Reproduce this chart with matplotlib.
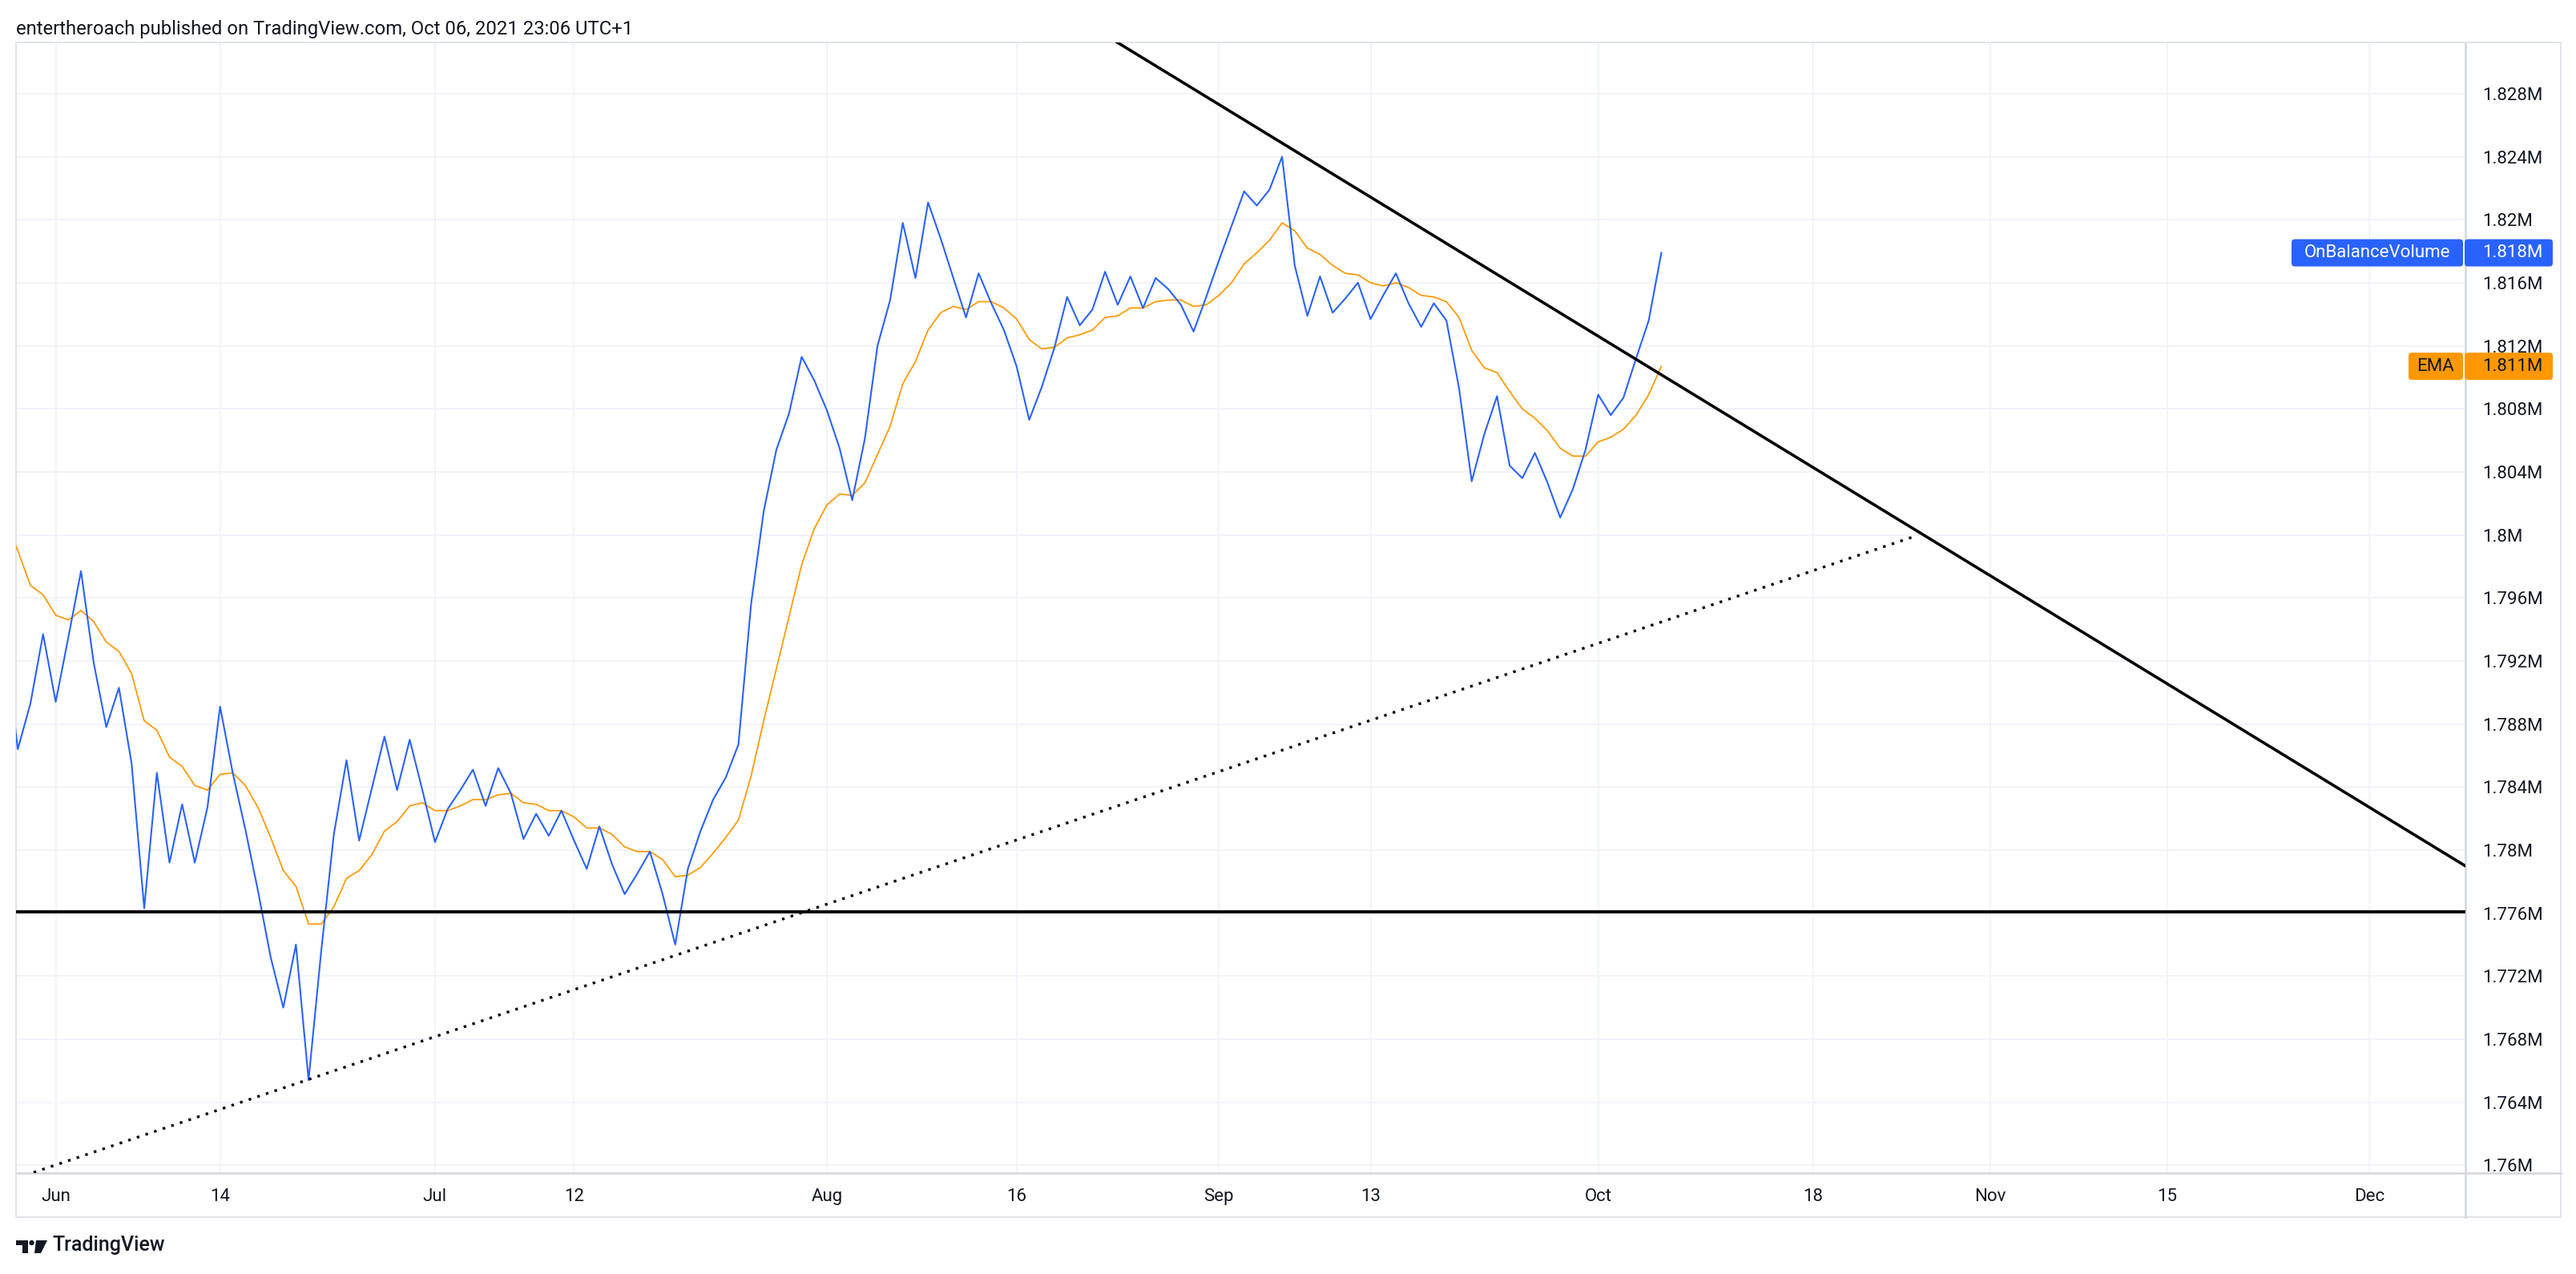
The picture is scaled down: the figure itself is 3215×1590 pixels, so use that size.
import matplotlib
matplotlib.use("Agg")
import matplotlib.pyplot as plt
from matplotlib.patches import FancyBboxPatch, Polygon, Circle
from matplotlib.lines import Line2D
from matplotlib.transforms import IdentityTransform
import pandas as pd

W, H = 3216, 1590

# daily On Balance Volume and its EMA, in millions (May 28 .. Oct 06 2021)
dates = pd.date_range("2021-05-28", "2021-10-06", freq="D")
obv = [1.7930, 1.7864, 1.7893, 1.7937,
       1.7894, 1.7935, 1.7977, 1.7919, 1.7878, 1.7903, 1.7855, 1.7763, 1.7849, 1.7792,
       1.7829, 1.7792, 1.7827, 1.7891, 1.7849, 1.7813, 1.7774, 1.7732, 1.7700, 1.7740,
       1.7654, 1.7736, 1.7810, 1.7857, 1.7806, 1.7839, 1.7872, 1.7838, 1.7870, 1.7838,
       1.7805, 1.7826, 1.7838, 1.7851, 1.7828, 1.7852, 1.7836, 1.7807, 1.7823, 1.7809,
       1.7825, 1.7806, 1.7788, 1.7815, 1.7791, 1.7772, 1.7785, 1.7799, 1.7772, 1.7740,
       1.7788, 1.7812, 1.7832, 1.7846, 1.7867, 1.7956, 1.8015, 1.8054, 1.8077, 1.8113, 1.8098,
       1.8079, 1.8055, 1.8022, 1.8061, 1.8120, 1.8149, 1.8198, 1.8163, 1.8211, 1.8188,
       1.8163, 1.8138, 1.8166, 1.8147, 1.8130, 1.8107, 1.8073, 1.8094, 1.8119, 1.8151,
       1.8133, 1.8143, 1.8167, 1.8146, 1.8164, 1.8144, 1.8163, 1.8156, 1.8146, 1.8129, 1.8151,
       1.8174, 1.8196, 1.8218, 1.8209, 1.8219, 1.8240, 1.8171, 1.8139, 1.8164, 1.8141,
       1.8150, 1.8160, 1.8137, 1.8152, 1.8166, 1.8147, 1.8132, 1.8147, 1.8136, 1.8093,
       1.8034, 1.8064, 1.8088, 1.8044, 1.8036, 1.8052, 1.8033, 1.8011, 1.8029, 1.8054,
       1.8089, 1.8076, 1.8087, 1.8112, 1.8136, 1.8179]
ema = [1.8010, 1.7990, 1.7968, 1.7962,
       1.7949, 1.7946, 1.7952, 1.7945, 1.7932, 1.7926, 1.7912, 1.7882, 1.7876, 1.7859,
       1.7853, 1.7841, 1.7838, 1.7848, 1.7849, 1.7841, 1.7827, 1.7808, 1.7787, 1.7777,
       1.7753, 1.7753, 1.7764, 1.7782, 1.7787, 1.7797, 1.7812, 1.7818, 1.7828, 1.7830,
       1.7825, 1.7825, 1.7828, 1.7832, 1.7832, 1.7835, 1.7836, 1.7830, 1.7829, 1.7825,
       1.7825, 1.7821, 1.7814, 1.7814, 1.7810, 1.7802, 1.7799, 1.7799, 1.7794, 1.7783,
       1.7784, 1.7789, 1.7798, 1.7808, 1.7819, 1.7847, 1.7882, 1.7915, 1.7948, 1.7981, 1.8004,
       1.8019, 1.8026, 1.8025, 1.8033, 1.8051, 1.8069, 1.8096, 1.8110, 1.8130, 1.8141,
       1.8145, 1.8143, 1.8148, 1.8148, 1.8144, 1.8137, 1.8124, 1.8118, 1.8119, 1.8125,
       1.8127, 1.8130, 1.8138, 1.8139, 1.8144, 1.8144, 1.8148, 1.8149, 1.8149, 1.8145, 1.8146,
       1.8152, 1.8160, 1.8172, 1.8179, 1.8187, 1.8198, 1.8193, 1.8182, 1.8178, 1.8171,
       1.8166, 1.8165, 1.8160, 1.8158, 1.8160, 1.8157, 1.8152, 1.8151, 1.8148, 1.8138,
       1.8117, 1.8106, 1.8103, 1.8091, 1.8080, 1.8074, 1.8066, 1.8055, 1.8050, 1.8050,
       1.8059, 1.8062, 1.8067, 1.8076, 1.8089, 1.8107]

# hand drawn lines
support_level = 1.7761
falling_dates = ["2021-08-20", "2021-12-10"]
falling_vals = [1.8332, 1.7783]
rising_dates = ["2021-05-22", "2021-10-26"]
rising_vals = [1.7573, 1.7999]

tick_dates = ["2021-06-01", "2021-06-14", "2021-07-01", "2021-07-12", "2021-08-01",
              "2021-08-16", "2021-09-01", "2021-09-13", "2021-10-01", "2021-10-18",
              "2021-11-01", "2021-11-15", "2021-12-01"]
tick_labels = ["Jun", "14", "Jul", "12", "Aug", "16", "Sep", "13", "Oct", "18", "Nov", "15", "Dec"]
y_ticks = [1.760, 1.764, 1.768, 1.772, 1.776, 1.780, 1.784, 1.788, 1.792,
           1.796, 1.800, 1.804, 1.808, 1.812, 1.816, 1.820, 1.824, 1.828]

TXT = "#131722"
BLUE = "#2962FF"
ORANGE = "#FF9800"
BORDER = "#e0e3eb"

plt.rcParams['font.family'] = ['Roboto', 'DejaVu Sans']

fig = plt.figure(figsize=(W / 100, H / 100), dpi=100)
fig.patch.set_facecolor("white")
ax = fig.add_axes([20 / W, (H - 1464) / H, (3077 - 20) / W, (1464 - 53) / H])

ax.plot(dates, ema, color=ORANGE, lw=1.25, zorder=3)
ax.plot(dates, obv, color=BLUE, lw=1.5, zorder=4)
ax.axhline(support_level, color="black", lw=2.8, zorder=5)
ax.plot(pd.to_datetime(falling_dates), falling_vals, color="black", lw=2.6, zorder=5)
ax.plot(pd.to_datetime(rising_dates), rising_vals, color="black", lw=2.4,
        ls=(0, (1, 2.4)), dash_capstyle="butt", zorder=5)

x0 = pd.Timestamp("2021-06-01")
ax.set_xlim(x0 - pd.Timedelta(days=3.14), x0 + pd.Timedelta(days=190.6))
ax.set_ylim(1.7595, 1.83125)

ax.set_xticks(pd.to_datetime(tick_dates))
ax.set_xticklabels(tick_labels)
ax.set_yticks(y_ticks)
ax.set_yticklabels([("%.3f" % v).rstrip("0").rstrip(".") + "M" for v in y_ticks])
ax.yaxis.tick_right()
ax.tick_params(axis="both", length=0, labelsize=16, colors=TXT)
ax.tick_params(axis="x", pad=14)
ax.tick_params(axis="y", pad=15)
ax.grid(True, color="#f0f3fa", lw=1.4)
ax.set_axisbelow(True)
for side in ["left", "top"]:
    ax.spines[side].set_color(BORDER)
    ax.spines[side].set_linewidth(1.4)
for side in ["right", "bottom"]:
    ax.spines[side].set_color("#d6d9e0")
    ax.spines[side].set_linewidth(2.0)


def fig_line(xa, ya, xb, yb, color=BORDER, lw=1.4):
    fig.add_artist(Line2D([xa / W, xb / W], [1 - ya / H, 1 - yb / H],
                          color=color, lw=lw, transform=fig.transFigure))


# frame around price scale and time scale
fig_line(3077, 53, 3196, 53)
fig_line(3196, 53, 3196, 1519)
fig_line(20, 1519, 3196, 1519)
fig_line(20, 1464, 20, 1519)
fig_line(3077, 1464, 3077, 1519, color="#d6d9e0", lw=2.0)
fig_line(3077, 1464, 3196, 1464, color="#d6d9e0", lw=2.0)


def tag(value, name, name_x, fill, color):
    yc = ax.transData.transform((ax.get_xlim()[0], value))[1]
    h = 34
    for xa, xb in [(name_x, 3074), (3076, 3186)]:
        fig.add_artist(FancyBboxPatch((xa, yc - h / 2), xb - xa, h,
                                      boxstyle="round,pad=0,rounding_size=4",
                                      fc=fill, ec="none", transform=IdentityTransform(),
                                      zorder=10))
    fig.text((name_x + 3074) / 2 / W, yc / H, name, ha="center", va="center",
             fontsize=16, color=color, zorder=11)
    fig.text(3098 / W, yc / H, ("%.3f" % value) + "M", ha="left", va="center",
             fontsize=16, color=color, zorder=11)


tag(obv[-1], "OnBalanceVolume", 2860, BLUE, "white")
tag(ema[-1], "EMA", 3006, ORANGE, TXT)

fig.text(20 / W, 1 - 43 / H,
         "entertheroach published on TradingView.com, Oct 06, 2021 23:06 UTC+1",
         fontsize=17.2, color=TXT, va="baseline")

# TradingView logo at the bottom
def px(x, y):
    return (x, H - y)

fig.add_artist(Polygon([px(20, 1548), px(35, 1548), px(35, 1564), px(28, 1564),
                        px(28, 1554), px(20, 1554)], closed=True, fc=TXT, ec="none",
                       transform=IdentityTransform()))
fig.add_artist(Circle(px(39.5, 1551), 3.2, fc=TXT, ec="none", transform=IdentityTransform()))
fig.add_artist(Polygon([px(45, 1548), px(59, 1548), px(51, 1564), px(43, 1564)],
                       closed=True, fc=TXT, ec="none", transform=IdentityTransform()))
fig.text(66 / W, 1 - 1561 / H, "TradingView", fontsize=18, fontweight="medium",
         color=TXT, va="baseline")

fig.savefig("out.png", dpi=100, facecolor="white")
